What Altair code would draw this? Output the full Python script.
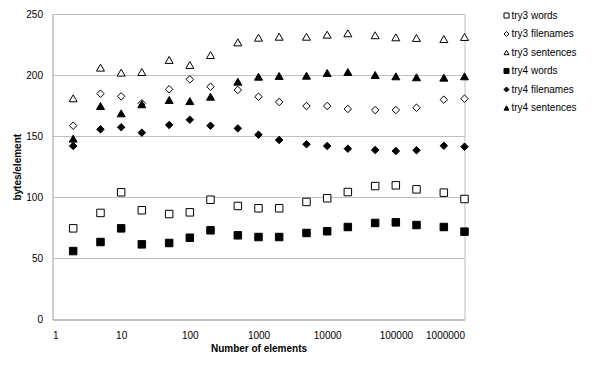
import altair as alt
import pandas as pd

n_elements = [2, 5, 10, 20, 50, 100, 200, 500, 1000, 2000, 5000, 10000,
              20000, 50000, 100000, 200000, 500000, 1000000]

try3_words = [74.6, 87.2, 104.1, 89.4, 86.3, 87.7, 98.0, 92.9, 91.0, 91.0,
              96.2, 99.2, 104.3, 109.2, 109.8, 106.5, 103.8, 98.6]
try3_filenames = [158.6, 184.8, 182.6, 176.9, 188.4, 196.5, 190.5, 187.8, 182.3,
                  178.0, 174.7, 174.7, 172.3, 171.4, 171.4, 173.3, 179.9, 180.7]
try3_sentences = [181.0, 206.1, 202.0, 202.5, 212.4, 208.3, 216.4, 226.8, 230.6,
                  231.4, 231.4, 233.1, 234.2, 232.6, 230.9, 230.4, 229.5, 231.2]
try4_words = [56.0, 63.4, 74.6, 61.5, 62.6, 66.9, 73.0, 68.9, 67.5, 67.5,
              70.8, 72.2, 75.7, 79.0, 79.5, 77.3, 75.7, 71.9]
try4_filenames = [142.0, 155.6, 157.3, 152.9, 159.2, 163.5, 158.6, 156.4, 151.2,
                  146.9, 143.4, 142.0, 139.8, 138.7, 137.9, 138.5, 142.2, 141.4]
try4_sentences = [148.0, 174.7, 168.7, 176.1, 179.6, 178.7, 182.3, 194.6, 198.7,
                  199.3, 199.5, 201.7, 202.5, 200.1, 199.0, 198.2, 197.9, 199.0]

series_names = ["try3 words", "try3 filenames", "try3 sentences",
                "try4 words", "try4 filenames", "try4 sentences"]
series_values = [try3_words, try3_filenames, try3_sentences,
                 try4_words, try4_filenames, try4_sentences]
shapes = ["square", "diamond", "triangle-up", "square", "diamond", "triangle-up"]
fills = ["white", "white", "white", "black", "black", "black"]
strokes = ["black"] * 6
sizes = [56, 56, 64, 56, 56, 64]

rows = []
for i, (name, vals) in enumerate(zip(series_names, series_values)):
    for x, y in zip(n_elements, vals):
        rows.append({"n": x, "v": y, "series": name, "order": i, "sz": sizes[i]})
df = pd.DataFrame(rows)

FONT = "Liberation Sans"
GRID = "#BFBFBF"

legend = alt.Legend(title=None, orient="none", legendX=449, legendY=-3.5,
                    padding=0, rowPadding=8.5, symbolSize=25,
                    labelOffset=0, labelFontSize=10, labelFont=FONT,
                    labelColor="black", symbolStrokeWidth=1)

chart = alt.Chart(df).mark_point(filled=False, strokeWidth=1, opacity=1).encode(
    x=alt.X("n:Q", scale=alt.Scale(type="log", domain=[1, 1000000]),
            axis=alt.Axis(title="Number of elements", values=[1, 10, 100, 1000, 10000, 100000, 1000000],
                          format="d", grid=False, tickSize=0, labelPadding=11,
                          domainColor=GRID, domainWidth=2, titleY=24)),
    y=alt.Y("v:Q", scale=alt.Scale(domain=[0, 250], nice=False),
            axis=alt.Axis(title="bytes/element", values=[0, 50, 100, 150, 200, 250],
                          grid=True, gridColor=GRID, tickSize=0, labelPadding=10,
                          domainColor=GRID, domainWidth=1, titleX=-30)),
    shape=alt.Shape("series:N", scale=alt.Scale(domain=series_names, range=shapes), legend=legend),
    fill=alt.Fill("series:N", scale=alt.Scale(domain=series_names, range=fills), legend=legend),
    stroke=alt.Stroke("series:N", scale=alt.Scale(domain=series_names, range=strokes), legend=legend),
    size=alt.Size("sz:Q", scale=None, legend=None),
    order=alt.Order("order:Q"),
).properties(
    width=412, height=305.5,
    autosize=alt.AutoSizeParams(type="none"),
    padding={"left": 44.5, "top": 6, "right": 127.5, "bottom": 38.5},
).configure_view(
    stroke=GRID, strokeWidth=1
).configure_axis(
    labelFont=FONT, labelFontSize=10, labelColor="black",
    titleFont=FONT, titleFontSize=10, titleFontWeight="bold", titleColor="black",
    gridWidth=1,
)

chart.save("out.html", embed_options={"renderer": "svg", "actions": False})
